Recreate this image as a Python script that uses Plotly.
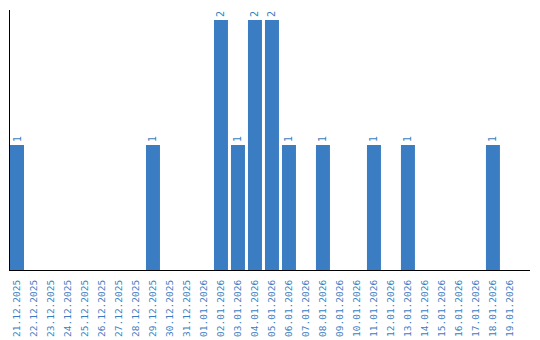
import plotly.graph_objects as go

dates = ["21.12.2025","22.12.2025","23.12.2025","24.12.2025","25.12.2025","26.12.2025",
         "27.12.2025","28.12.2025","29.12.2025","30.12.2025","31.12.2025","01.01.2026",
         "02.01.2026","03.01.2026","04.01.2026","05.01.2026","06.01.2026","07.01.2026",
         "08.01.2026","09.01.2026","10.01.2026","11.01.2026","12.01.2026","13.01.2026",
         "14.01.2026","15.01.2026","16.01.2026","17.01.2026","18.01.2026","19.01.2026"]
counts = [1,0,0,0,0,0,0,0,1,0,0,0,2,1,2,2,1,0,1,0,0,1,0,1,0,0,0,0,1,0]

idx = list(range(len(dates)))
color = "#3b7dc2"
texts = [str(c) if c > 0 else "" for c in counts]
font = "DejaVu Sans Mono"

fig = go.Figure(go.Bar(
    x=idx, y=counts, width=14/17, marker_color=color, marker_line_width=0,
    text=texts, textposition="outside", textangle=-90,
    textfont=dict(family=font, size=10, color=color),
    cliponaxis=False,
))
fig.update_layout(
    width=540, height=340, margin=dict(l=10, r=10, t=10, b=70),
    plot_bgcolor="white", paper_bgcolor="white", showlegend=False,
    xaxis=dict(range=[-7/17, 30.18], tickvals=idx, ticktext=dates, tickangle=-90,
               tickfont=dict(family=font, size=9.5, color=color),
               showgrid=False, showline=True, linecolor="black", linewidth=1,
               ticks="", ticklabelstandoff=5, zeroline=False, automargin=False),
    yaxis=dict(range=[0, 2.08], showticklabels=False, showgrid=False, showline=True,
               linecolor="black", linewidth=1, ticks="", zeroline=False,
               automargin=False),
)
fig.write_html("out.html")
